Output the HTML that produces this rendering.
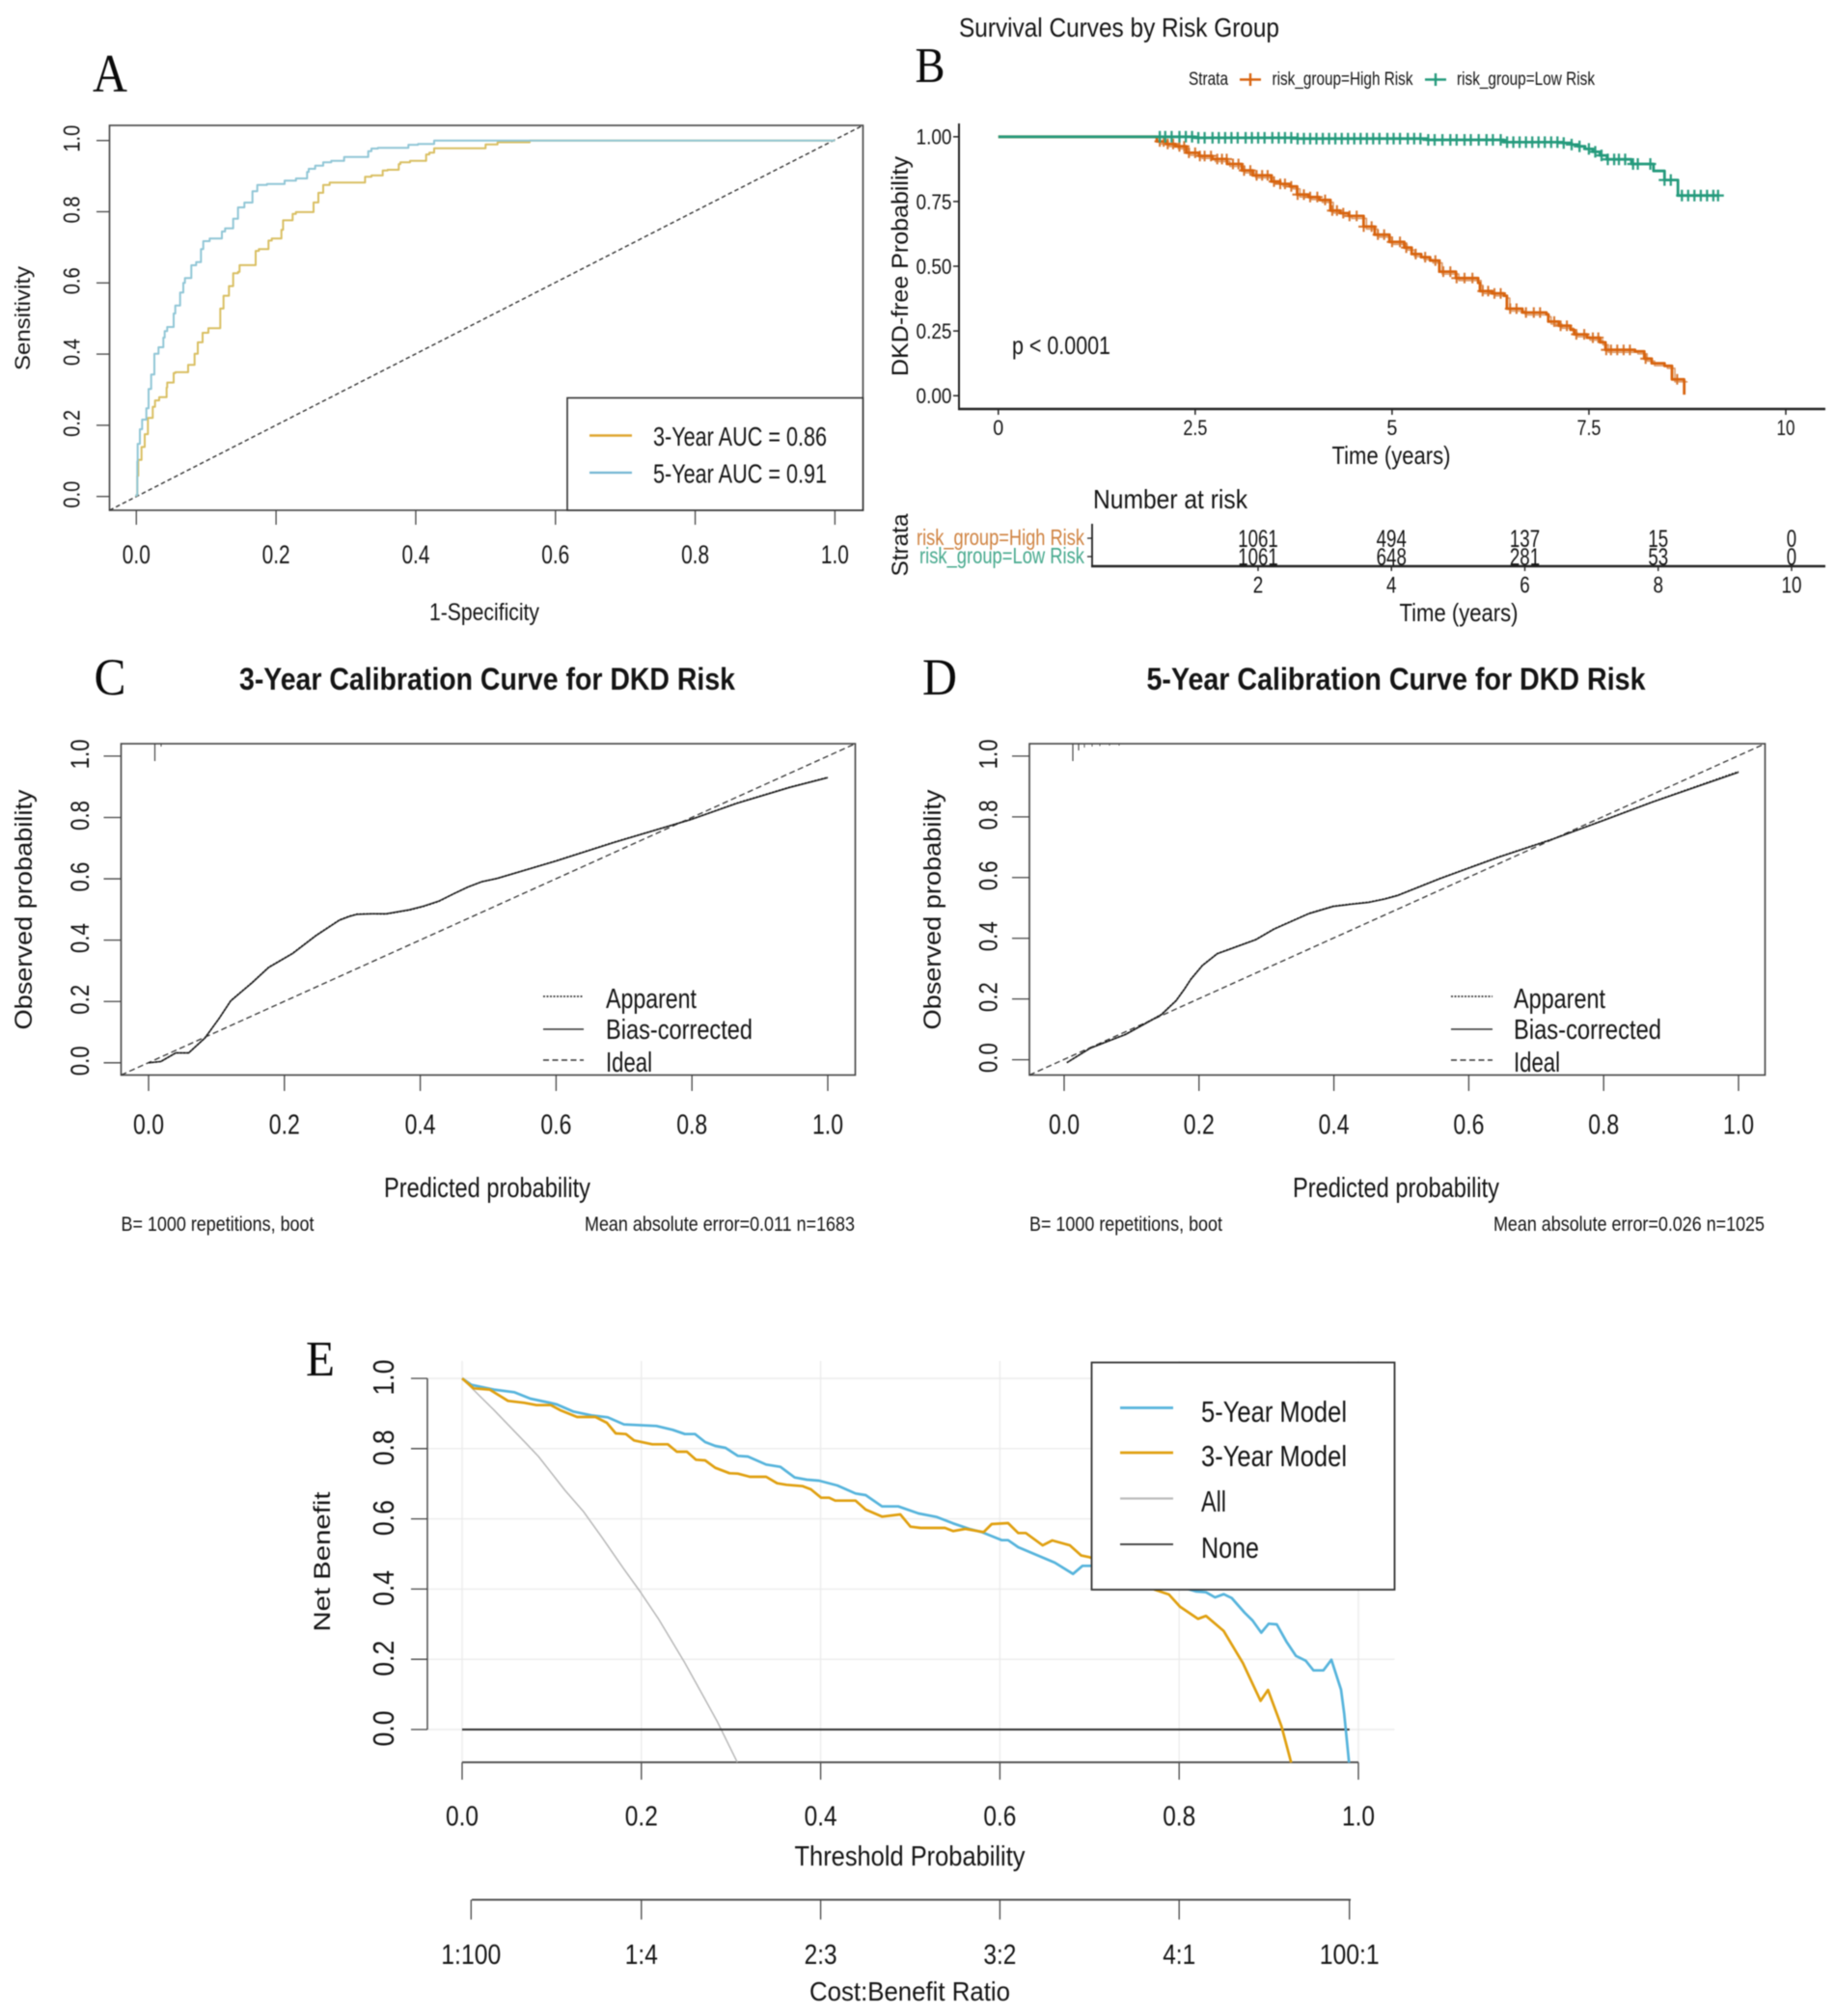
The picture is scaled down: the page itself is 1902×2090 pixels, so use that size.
<!DOCTYPE html>
<html lang="en">
<head>
<meta charset="utf-8">
<title>DKD risk model figure panels A to E</title>
<style>
html,body{margin:0;padding:0;background:#fff;width:1902px;height:2090px;overflow:hidden}
svg{display:block;filter:blur(0.55px)}
text{font-family:"Liberation Sans",sans-serif;fill:#141414}
.serif{font-family:"Liberation Serif",serif;fill:#0a0a0a}
.bold{font-weight:bold}
</style>
</head>
<body>
<svg id="fig" xmlns="http://www.w3.org/2000/svg" width="1902" height="2090" viewBox="0 0 1902 2090">
<rect x="0" y="0" width="1902" height="2090" fill="#fff"/>

<!-- PANEL A -->
<g id="panelA">
  <text class="serif" x="114" y="95" text-anchor="middle" font-size="56" textLength="36" lengthAdjust="spacingAndGlyphs">A</text>
  <rect x="113.5" y="130" width="781" height="399" fill="none" stroke="#444" stroke-width="1.6"/>
  <text x="502" y="643" text-anchor="middle" font-size="25" textLength="114" lengthAdjust="spacingAndGlyphs">1-Specificity</text>
  <text transform="translate(31,330) rotate(-90)" text-anchor="middle" font-size="22" textLength="108" lengthAdjust="spacingAndGlyphs">Sensitivity</text>
</g>
<g id="legendA">
  <rect x="588" y="412.5" width="306.5" height="116.5" fill="#fff" stroke="#333" stroke-width="1.6"/>
  <line x1="611" x2="655" y1="451.5" y2="451.5" stroke="#dfa52e" stroke-width="2.6"/>
  <text x="677" y="462" font-size="28" textLength="180" lengthAdjust="spacingAndGlyphs">3-Year AUC = 0.86</text>
  <line x1="611" x2="655" y1="490" y2="490" stroke="#72b7d2" stroke-width="2.2"/>
  <text x="677" y="500.5" font-size="28" textLength="180" lengthAdjust="spacingAndGlyphs">5-Year AUC = 0.91</text>
</g>

<!-- PANEL B -->
<g id="panelB">
  <text x="994" y="38" font-size="28" textLength="332" lengthAdjust="spacingAndGlyphs">Survival Curves by Risk Group</text>
  <text class="serif" x="964" y="85" text-anchor="middle" font-size="52" textLength="31" lengthAdjust="spacingAndGlyphs">B</text>
  <text x="1232" y="88" font-size="19" textLength="41" lengthAdjust="spacingAndGlyphs">Strata</text>
  <text x="1318.5" y="88" font-size="19" textLength="146" lengthAdjust="spacingAndGlyphs">risk_group=High Risk</text>
  <text x="1510" y="88" font-size="19" textLength="143" lengthAdjust="spacingAndGlyphs">risk_group=Low Risk</text>
  <line x1="994" x2="994" y1="128" y2="424" stroke="#222" stroke-width="2"/>
  <line x1="993" x2="1892" y1="424" y2="424" stroke="#222" stroke-width="2.6"/>
  <text transform="translate(941,276) rotate(-90)" text-anchor="middle" font-size="24" textLength="228" lengthAdjust="spacingAndGlyphs">DKD-free Probability</text>
  <text x="1442" y="481" text-anchor="middle" font-size="26" textLength="123" lengthAdjust="spacingAndGlyphs">Time (years)</text>
  <text x="1049" y="367" font-size="26" textLength="102" lengthAdjust="spacingAndGlyphs">p &lt; 0.0001</text>
  <text x="1133" y="527" font-size="28" textLength="160" lengthAdjust="spacingAndGlyphs">Number at risk</text>
  <line x1="1132" x2="1132" y1="543" y2="587" stroke="#222" stroke-width="1.8"/>
  <line x1="1131" x2="1892" y1="587" y2="587" stroke="#222" stroke-width="2.4"/>
  <text x="1124" y="565" text-anchor="end" font-size="23" textLength="174" lengthAdjust="spacingAndGlyphs" style="fill:#cf8240">risk_group=High Risk</text>
  <text x="1124" y="584" text-anchor="end" font-size="23" textLength="171" lengthAdjust="spacingAndGlyphs" style="fill:#46a98d">risk_group=Low Risk</text>
  <text transform="translate(941,565) rotate(-90)" text-anchor="middle" font-size="24" textLength="65" lengthAdjust="spacingAndGlyphs">Strata</text>
  <text x="1512" y="644" text-anchor="middle" font-size="26" textLength="123" lengthAdjust="spacingAndGlyphs">Time (years)</text>
</g>

<!-- PANEL C -->
<g id="panelC">
  <text class="serif" x="114" y="720" text-anchor="middle" font-size="54" textLength="33" lengthAdjust="spacingAndGlyphs">C</text>
  <text class="bold" x="505" y="715" text-anchor="middle" font-size="32" textLength="514" lengthAdjust="spacingAndGlyphs">3-Year Calibration Curve for DKD Risk</text>
  <rect x="125.5" y="771" width="761" height="343.5" fill="none" stroke="#444" stroke-width="1.6"/>
  <text x="505" y="1241" text-anchor="middle" font-size="29" textLength="214" lengthAdjust="spacingAndGlyphs">Predicted probability</text>
  <text transform="translate(33,943) rotate(-90)" text-anchor="middle" font-size="25" textLength="249" lengthAdjust="spacingAndGlyphs">Observed probability</text>
  <text x="125.5" y="1276" font-size="21" textLength="200" lengthAdjust="spacingAndGlyphs">B= 1000 repetitions, boot</text>
  <text x="886" y="1276" text-anchor="end" font-size="21" textLength="280" lengthAdjust="spacingAndGlyphs">Mean absolute error=0.011 n=1683</text>
  <line x1="563" x2="605" y1="1033" y2="1033" stroke="#222" stroke-width="1.4" stroke-dasharray="2 1.5"/>
  <text x="628" y="1045" font-size="29" textLength="94" lengthAdjust="spacingAndGlyphs">Apparent</text>
  <line x1="563" x2="605" y1="1067" y2="1067" stroke="#333" stroke-width="1.6"/>
  <text x="628" y="1077" font-size="29" textLength="152" lengthAdjust="spacingAndGlyphs">Bias-corrected</text>
  <line x1="563" x2="605" y1="1099" y2="1099" stroke="#333" stroke-width="1.4" stroke-dasharray="6 3.5"/>
  <text x="628" y="1111" font-size="29" textLength="48" lengthAdjust="spacingAndGlyphs">Ideal</text>
</g>

<!-- PANEL D -->
<g id="panelD">
  <text class="serif" x="974" y="720" text-anchor="middle" font-size="54" textLength="36" lengthAdjust="spacingAndGlyphs">D</text>
  <text class="bold" x="1447" y="715" text-anchor="middle" font-size="32" textLength="517" lengthAdjust="spacingAndGlyphs">5-Year Calibration Curve for DKD Risk</text>
  <rect x="1067" y="771" width="762.5" height="343.5" fill="none" stroke="#444" stroke-width="1.6"/>
  <text x="1447" y="1241" text-anchor="middle" font-size="29" textLength="214" lengthAdjust="spacingAndGlyphs">Predicted probability</text>
  <text transform="translate(975,943) rotate(-90)" text-anchor="middle" font-size="25" textLength="249" lengthAdjust="spacingAndGlyphs">Observed probability</text>
  <text x="1067" y="1276" font-size="21" textLength="200" lengthAdjust="spacingAndGlyphs">B= 1000 repetitions, boot</text>
  <text x="1829" y="1276" text-anchor="end" font-size="21" textLength="281" lengthAdjust="spacingAndGlyphs">Mean absolute error=0.026 n=1025</text>
  <line x1="1504" x2="1547" y1="1033" y2="1033" stroke="#222" stroke-width="1.4" stroke-dasharray="2 1.5"/>
  <text x="1569" y="1045" font-size="29" textLength="95" lengthAdjust="spacingAndGlyphs">Apparent</text>
  <line x1="1504" x2="1547" y1="1067" y2="1067" stroke="#333" stroke-width="1.6"/>
  <text x="1569" y="1077" font-size="29" textLength="153" lengthAdjust="spacingAndGlyphs">Bias-corrected</text>
  <line x1="1504" x2="1547" y1="1099" y2="1099" stroke="#333" stroke-width="1.4" stroke-dasharray="6 3.5"/>
  <text x="1569" y="1111" font-size="29" textLength="48" lengthAdjust="spacingAndGlyphs">Ideal</text>
</g>

<!-- PANEL E -->
<g id="panelE">
  <text class="serif" x="332" y="1426" text-anchor="middle" font-size="52" textLength="30" lengthAdjust="spacingAndGlyphs">E</text>
  <text x="943" y="1934" text-anchor="middle" font-size="29" textLength="239" lengthAdjust="spacingAndGlyphs">Threshold Probability</text>
  <text x="943" y="2074" text-anchor="middle" font-size="28" textLength="208" lengthAdjust="spacingAndGlyphs">Cost:Benefit Ratio</text>
  <text transform="translate(342,1619) rotate(-90)" text-anchor="middle" font-size="24" textLength="145" lengthAdjust="spacingAndGlyphs">Net Benefit</text>
</g>
<g id="legendE">
  <rect x="1131.5" y="1412.5" width="314" height="235.5" fill="#fff" stroke="#333" stroke-width="1.8"/>
  <line x1="1161" x2="1216" y1="1459.5" y2="1459.5" stroke="#56b4dc" stroke-width="2.8"/>
  <text x="1245" y="1474" font-size="31" textLength="151" lengthAdjust="spacingAndGlyphs">5-Year Model</text>
  <line x1="1161" x2="1216" y1="1506" y2="1506" stroke="#e0a010" stroke-width="2.8"/>
  <text x="1245" y="1520" font-size="31" textLength="151" lengthAdjust="spacingAndGlyphs">3-Year Model</text>
  <line x1="1161" x2="1216" y1="1553.5" y2="1553.5" stroke="#bbb" stroke-width="2.2"/>
  <text x="1245" y="1567" font-size="31" textLength="26" lengthAdjust="spacingAndGlyphs">All</text>
  <line x1="1161" x2="1216" y1="1601" y2="1601" stroke="#333" stroke-width="1.8"/>
  <text x="1245" y="1615" font-size="31" textLength="60" lengthAdjust="spacingAndGlyphs">None</text>
</g>
</svg>

<script>
// ---------- Panel A data ----------
var rocTicks = ['0.0','0.2','0.4','0.6','0.8','1.0'];
var roc3Fpr = [0,0.0014,0.0028,0.0074,0.012,0.0166,0.0235,0.0268,0.0327,0.0434,0.0442,0.0534,0.0558,0.0742,0.0834,0.088,0.0949,0.1032,0.1202,0.1249,0.1326,0.1387,0.1456,0.1478,0.1708,0.1754,0.1892,0.1939,0.2077,0.21,0.2237,0.2284,0.2537,0.2606,0.2675,0.2768,0.3274,0.3366,0.3527,0.3596,0.3756,0.378,0.3918,0.4149,0.4194,0.4263,0.5,0.517,0.563,0.6,1];
var roc3Tpr = [0,0.004,0.058,0.103,0.139,0.175,0.221,0.252,0.27,0.279,0.306,0.32,0.347,0.349,0.37,0.401,0.433,0.46,0.473,0.528,0.564,0.591,0.627,0.631,0.65,0.69,0.695,0.719,0.725,0.749,0.776,0.794,0.799,0.826,0.853,0.875,0.882,0.898,0.902,0.916,0.918,0.934,0.939,0.943,0.961,0.966,0.978,0.989,0.995,1,1];
var roc5Fpr = [0,0.0014,0.0019,0.0051,0.0083,0.0144,0.0175,0.0213,0.0258,0.0318,0.0387,0.0406,0.0442,0.0534,0.0558,0.0627,0.0673,0.0696,0.0787,0.0856,0.0925,0.0958,0.105,0.1225,0.1271,0.1387,0.1456,0.1547,0.1663,0.1732,0.187,0.2123,0.2285,0.2445,0.2468,0.2561,0.2675,0.279,0.2975,0.3044,0.332,0.3366,0.3458,0.3895,0.4033,0.4263,0.5,1];
var roc5Tpr = [0,0.004,0.0987,0.148,0.189,0.216,0.2477,0.3019,0.3425,0.4011,0.4192,0.4463,0.4645,0.4762,0.5141,0.5366,0.5729,0.6,0.6136,0.6496,0.6585,0.6948,0.7173,0.7246,0.7444,0.7534,0.7805,0.8122,0.8257,0.8574,0.8753,0.878,0.8872,0.8935,0.9116,0.9206,0.9295,0.9387,0.9431,0.9539,0.9539,0.9702,0.9775,0.9793,0.9882,0.9902,1,1];

// ---------- Panel B data ----------
var survTicks = ['0','2.5','5','7.5','10'];
var survTickValues = [0,2.5,5,7.5,10];
var probTicks = ['0.00','0.25','0.50','0.75','1.00'];
var probTickValues = [0,0.25,0.5,0.75,1];
var highTime = [0,2.013,2.13,2.248,2.389,2.55,2.717,2.904,3.092,3.232,3.467,3.58,3.702,3.795,3.94,4.077,4.217,4.34,4.451,4.639,4.779,4.967,5.154,5.249,5.37,5.483,5.6,5.811,6.093,6.116,6.27,6.421,6.458,6.655,6.96,6.983,7.12,7.265,7.312,7.476,7.64,7.71,8.085,8.203,8.297,8.46,8.554,8.708,8.71];
var highSurv = [1,0.982,0.972,0.963,0.938,0.926,0.914,0.895,0.87,0.851,0.827,0.818,0.808,0.777,0.767,0.756,0.715,0.705,0.694,0.653,0.622,0.594,0.572,0.547,0.535,0.522,0.479,0.454,0.436,0.404,0.395,0.386,0.336,0.321,0.314,0.286,0.27,0.255,0.237,0.224,0.206,0.177,0.171,0.143,0.125,0.115,0.063,0.06,0.004];
var lowTime = [0,2.5,3.8,5.44,6.42,7.17,7.28,7.36,7.45,7.55,7.64,7.73,8.04,8.32,8.46,8.63,9.15];
var lowSurv = [1,0.996,0.993,0.988,0.979,0.976,0.97,0.963,0.953,0.942,0.928,0.913,0.895,0.868,0.833,0.773,0.773];
var highCensor = [2.05,2.1,2.15,2.22,2.3,2.36,2.42,2.5,2.56,2.62,2.7,2.78,2.84,2.9,2.98,3.05,3.12,3.2,3.28,3.35,3.42,3.5,3.58,3.64,3.72,3.8,3.88,3.96,4.05,4.15,4.24,4.3,4.38,4.46,4.55,4.64,4.74,4.82,4.9,5.0,5.1,5.18,5.3,5.42,5.55,5.65,5.74,5.82,5.92,6.02,6.15,6.22,6.3,6.38,6.5,6.58,6.7,6.8,6.88,7.06,7.14,7.22,7.34,7.44,7.55,7.62,7.72,7.78,7.86,7.94,8.02,8.22,8.62];
var lowCensor = [2.05,2.12,2.2,2.3,2.38,2.46,2.54,2.62,2.72,2.8,2.88,2.96,3.04,3.14,3.22,3.3,3.38,3.48,3.56,3.64,3.72,3.8,3.88,3.96,4.04,4.12,4.2,4.28,4.36,4.44,4.52,4.6,4.68,4.76,4.84,4.94,5.02,5.1,5.2,5.28,5.36,5.46,5.54,5.64,5.74,5.82,5.92,6.0,6.1,6.2,6.28,6.38,6.46,6.54,6.62,6.7,6.78,6.86,6.94,7.02,7.1,7.18,7.28,7.38,7.5,7.58,7.66,7.74,7.82,7.88,7.96,8.06,8.12,8.28,8.46,8.54,8.68,8.76,8.84,8.92,9.0,9.08,9.14];
var riskTimes = [2,4,6,8,10];
var riskHigh = ['1061','494','137','15','0'];
var riskLow = ['1061','648','281','53','0'];
var riskTickLabels = ['2','4','6','8','10'];

// ---------- Panel C data ----------
var calTicks = ['0.0','0.2','0.4','0.6','0.8','1.0'];
var cal3X = [0,0.018,0.04,0.059,0.083,0.104,0.121,0.152,0.177,0.212,0.246,0.281,0.295,0.307,0.33,0.35,0.384,0.405,0.427,0.45,0.47,0.49,0.513,0.6,0.686,0.798,0.866,0.944,1];
var cal3Apparent = [0,0.004,0.032,0.032,0.081,0.145,0.203,0.261,0.312,0.357,0.415,0.466,0.478,0.485,0.486,0.485,0.498,0.51,0.526,0.552,0.573,0.59,0.601,0.659,0.72,0.793,0.847,0.899,0.931];
var cal3Corrected = [0,0.004,0.032,0.032,0.081,0.145,0.202,0.26,0.311,0.356,0.414,0.465,0.477,0.484,0.486,0.486,0.499,0.511,0.527,0.552,0.573,0.59,0.601,0.658,0.719,0.793,0.846,0.898,0.93];

// ---------- Panel D data ----------
var cal5X = [0.004,0.039,0.091,0.144,0.166,0.178,0.188,0.205,0.227,0.284,0.311,0.363,0.399,0.425,0.451,0.475,0.495,0.557,0.644,0.723,0.802,0.873,1];
var cal5Apparent = [-0.01,0.039,0.084,0.149,0.195,0.232,0.266,0.311,0.35,0.396,0.431,0.482,0.506,0.513,0.519,0.53,0.542,0.597,0.668,0.726,0.791,0.85,0.949];
var cal5Corrected = [-0.01,0.038,0.083,0.148,0.194,0.231,0.265,0.31,0.349,0.395,0.43,0.481,0.505,0.512,0.518,0.529,0.541,0.596,0.667,0.725,0.79,0.849,0.947];

// ---------- Panel E data ----------
var dcaTicks = ['0.0','0.2','0.4','0.6','0.8','1.0'];
var costLabels = ['1:100','1:4','2:3','3:2','4:1','100:1'];
var costThresholds = [0.01,0.2,0.4,0.6,0.8,0.99];
var dca5X = [0,0.0104,0.0354,0.058,0.0762,0.0966,0.1057,0.1238,0.1442,0.1624,0.1805,0.2168,0.2349,0.2485,0.2599,0.2712,0.2825,0.2939,0.3075,0.3188,0.3392,0.3551,0.371,0.3846,0.3982,0.4186,0.439,0.4503,0.4685,0.4866,0.5093,0.5297,0.5478,0.566,0.5796,0.6023,0.6091,0.6204,0.6612,0.6816,0.6921,0.7011,0.73,0.76,0.79,0.8192,0.8299,0.84,0.8497,0.8587,0.873,0.8819,0.8916,0.8999,0.9089,0.9196,0.9304,0.9412,0.9498,0.9609,0.9699,0.9806,0.9842,0.9896];
var dca5Y = [1,0.9817,0.968,0.9606,0.9423,0.9313,0.9258,0.9057,0.8947,0.8892,0.869,0.8645,0.8535,0.8416,0.8416,0.8187,0.8077,0.8022,0.7793,0.7775,0.7546,0.7482,0.7179,0.7115,0.7088,0.695,0.6722,0.6676,0.6355,0.6355,0.6154,0.6053,0.587,0.5714,0.5623,0.5394,0.5394,0.5192,0.4753,0.4432,0.4661,0.4661,0.455,0.44,0.415,0.393,0.391,0.3764,0.3855,0.3745,0.333,0.3104,0.2757,0.3013,0.2995,0.2509,0.2097,0.1959,0.1685,0.1685,0.1987,0.1135,0.0449,-0.0943];
var dca3X = [0,0.0127,0.0308,0.0512,0.0694,0.083,0.0989,0.1102,0.1283,0.1488,0.1615,0.1714,0.1828,0.1918,0.2122,0.2295,0.2395,0.2508,0.2608,0.2712,0.2825,0.2984,0.3075,0.3211,0.3392,0.3515,0.3619,0.38,0.3891,0.4005,0.4095,0.4163,0.439,0.4503,0.4685,0.4889,0.5002,0.5116,0.5388,0.5478,0.5615,0.5819,0.5909,0.6091,0.6204,0.629,0.6477,0.6585,0.6781,0.6907,0.6997,0.73,0.7725,0.7886,0.8011,0.821,0.8299,0.8497,0.8712,0.8909,0.8991,0.9142,0.925];
var dca3Y = [1,0.9716,0.968,0.9359,0.9304,0.924,0.924,0.9084,0.8901,0.8901,0.8736,0.8434,0.8416,0.8233,0.8123,0.8123,0.7912,0.7912,0.7683,0.7665,0.7454,0.7299,0.7289,0.7198,0.7198,0.7015,0.6969,0.6932,0.6841,0.6603,0.6603,0.652,0.652,0.6264,0.6062,0.6126,0.5778,0.5742,0.5742,0.565,0.5714,0.5623,0.5852,0.5879,0.5595,0.5595,0.5245,0.5385,0.5245,0.4956,0.4908,0.46,0.3984,0.3846,0.3495,0.3152,0.3235,0.2805,0.189,0.0816,0.1127,0.0092,-0.0943];
var dcaAllX = [0,0.0172,0.0354,0.0717,0.0853,0.1147,0.1351,0.1556,0.1805,0.1986,0.219,0.248,0.268,0.285,0.307];
var dcaAllY = [1,0.956,0.9103,0.8141,0.7775,0.6813,0.6218,0.5485,0.4569,0.3929,0.315,0.192,0.1,0.021,-0.093];
var dcaNoneX = [0,0.99];
var dcaNoneY = [0,0];

// ---------- helpers ----------
var NS = 'http://www.w3.org/2000/svg';
function scale(d0, d1, r0, r1) {
  return function (v) { return r0 + (v - d0) * (r1 - r0) / (d1 - d0); };
}
function addLine(parent, x1, y1, x2, y2, stroke, width, name) {
  var el = document.createElementNS(NS, 'line');
  el.setAttribute('x1', x1); el.setAttribute('y1', y1);
  el.setAttribute('x2', x2); el.setAttribute('y2', y2);
  el.setAttribute('stroke', stroke); el.setAttribute('stroke-width', width);
  
  
  parent.appendChild(el);
  return el;
}
function addPath(parent, d, stroke, width, dash, name) {
  var el = document.createElementNS(NS, 'path');
  el.setAttribute('d', d); el.setAttribute('fill', 'none');
  el.setAttribute('stroke', stroke); el.setAttribute('stroke-width', width);
  el.setAttribute('stroke-linejoin', 'round');
  if (dash) { el.setAttribute('stroke-dasharray', dash); }
  
  
  parent.appendChild(el);
  return el;
}
function addText(parent, x, y, str, size, len, rot, fill, name) {
  var el = document.createElementNS(NS, 'text');
  var base = size * 0.36;
  if (rot) {
    el.setAttribute('transform', 'translate(' + (x + base) + ',' + y + ') rotate(-90)');
  } else {
    el.setAttribute('x', x); el.setAttribute('y', y + base);
  }
  el.setAttribute('text-anchor', 'middle');
  el.setAttribute('font-size', size);
  if (len) {
    el.setAttribute('textLength', len);
    el.setAttribute('lengthAdjust', 'spacingAndGlyphs');
  }
  if (fill) { el.style.fill = fill; }
  el.textContent = str;
  
  
  parent.appendChild(el);
  return el;
}
function linePath(xs, ys, sx, sy) {
  return xs.map(function (x, i) { return (i ? 'L' : 'M') + sx(x).toFixed(1) + ' ' + sy(ys[i]).toFixed(1); }).join('');
}
function stepUpPath(xs, ys, sx, sy) {
  var d = 'M' + sx(xs[0]).toFixed(1) + ' ' + sy(ys[0]).toFixed(1);
  for (var i = 1; i < xs.length; i++) {
    d += 'V' + sy(ys[i]).toFixed(1) + 'H' + sx(xs[i]).toFixed(1);
  }
  return d;
}
function stepDownPath(xs, ys, sx, sy) {
  var d = 'M' + sx(xs[0]).toFixed(1) + ' ' + sy(ys[0]).toFixed(1);
  for (var i = 1; i < xs.length; i++) {
    d += 'H' + sx(xs[i]).toFixed(1) + 'V' + sy(ys[i]).toFixed(1);
  }
  return d;
}
function survivalAt(ts, ss, t) {
  var v = ss[0];
  for (var i = 0; i < ts.length; i++) { if (ts[i] <= t) { v = ss[i]; } }
  return v;
}
function addCensor(parent, xs, ts, ss, sx, sy, color, size, width, name) {
  xs.forEach(function (t) {
    var cx = sx(t), cy = sy(survivalAt(ts, ss, t));
    var d = 'M' + (cx - size).toFixed(1) + ' ' + cy.toFixed(1) + 'H' + (cx + size).toFixed(1) +
            'M' + cx.toFixed(1) + ' ' + (cy - size).toFixed(1) + 'V' + (cy + size).toFixed(1);
    addPath(parent, d, color, width, null, name);
  });
}

var byId = function (id) { return document.getElementById(id); };

// ---------- Panel A ----------
(function () {
  var g = byId('panelA');
  var sx = scale(0, 1, 141.3, 865.4), sy = scale(0, 1, 514.7, 145.7);
  rocTicks.forEach(function (label) {
    var v = parseFloat(label);
    addLine(g, sx(v), 529, sx(v), 544, '#444', 1.3, 'x-tick-a');
    addLine(g, 100, sy(v), 113.5, sy(v), '#444', 1.3, 'y-tick-a');
    addText(g, sx(v), 574.5, label, 27, 29, false, null, 'x-tick-label-a');
    addText(g, 74, sy(v) - 2, label, 24, 28, true, null, 'y-tick-label-a');
  });
  addPath(g, 'M113.5 529L894.5 130', '#333', 1.4, '4.5 3', 'reference-diagonal');
  addPath(g, stepUpPath(roc3Fpr, roc3Tpr, sx, sy), '#d9bf62', 2, null, 'roc-curve-3-year');
  addPath(g, stepUpPath(roc5Fpr, roc5Tpr, sx, sy), '#90c6d6', 2, null, 'roc-curve-5-year');
})();

// ---------- Panel B ----------
(function () {
  var g = byId('panelB');
  var sx = scale(0, 10, 1034.8, 1851), sy = scale(0, 1, 410.2, 141.8);
  var hi = '#d8640f', lo = '#249a7c';
  survTicks.forEach(function (label, i) {
    var v = survTickValues[i];
    addLine(g, sx(v), 424, sx(v), 430, '#222', 1.5, 'survival-x-tick');
    addText(g, sx(v), 443, label, 22, label.length > 1 ? (label === '10' ? 19 : 25) : 11, false, null, 'survival-x-tick-label');
  });
  probTicks.forEach(function (label, i) {
    var v = probTickValues[i];
    addLine(g, 988, sy(v), 994, sy(v), '#222', 1.5, 'survival-y-tick');
    addText(g, 968, sy(v), label, 22, 37, false, null, 'survival-y-tick-label');
  });
  var shadow = addPath(g, stepDownPath(highTime.slice(1, -1), highSurv.slice(1, -1), sx, sy), '#dd9a68', 1.6, null, 'survival-curve-high-risk-shadow');
  shadow.setAttribute('transform', 'translate(3,2.5)');
  addCensor(g, highCensor, highTime, highSurv, sx, sy, '#d97a34', 5.5, 2.1, 'censor-mark-high-risk');
  addPath(g, stepDownPath(highTime, highSurv, sx, sy), hi, 2.8, null, 'survival-curve-high-risk');
  addCensor(g, lowCensor, lowTime, lowSurv, sx, sy, '#2f9f83', 6, 2.3, 'censor-mark-low-risk');
  addPath(g, stepDownPath(lowTime, lowSurv, sx, sy), lo, 2.8, null, 'survival-curve-low-risk');
  addPath(g, 'M1285 82.5H1307M1296 76V89', hi, 2.4, null, 'legend-key-high-risk');
  addPath(g, 'M1477 82.5H1499M1488 76V89', lo, 2.4, null, 'legend-key-low-risk');

  var rx = scale(2, 10, 1304, 1857);
  riskTimes.forEach(function (t, i) {
    var c = rx(t);
    addLine(g, c, 587, c, 592, '#222', 1.4, 'risk-table-x-tick');
    addText(g, c, 606, riskTickLabels[i], 24, riskTickLabels[i].length * 10.5, false, null, 'risk-table-x-tick-label');
    addText(g, c, 558, riskHigh[i], 25, riskHigh[i].length * 10.4, false, null, 'risk-count-high');
    addText(g, c, 577, riskLow[i], 25, riskLow[i].length * 10.4, false, null, 'risk-count-low');
  });
  addLine(g, 1127, 558, 1132, 558, '#222', 1.3, 'risk-table-y-tick');
  addLine(g, 1127, 577, 1132, 577, '#222', 1.3, 'risk-table-y-tick');
})();

// ---------- Panels C and D ----------
function drawCalibration(id, x0, x1, y0, y1, boxL, boxR, xs, app, cor, suffix) {
  var g = byId(id);
  var sx = scale(0, 1, x0, x1), sy = scale(0, 1, y0, y1);
  calTicks.forEach(function (label) {
    var v = parseFloat(label);
    addLine(g, sx(v), 1114.5, sx(v), 1131, '#444', 1.3, 'x-tick-' + suffix);
    addLine(g, boxL - 18, sy(v), boxL, sy(v), '#444', 1.3, 'y-tick-' + suffix);
    addText(g, sx(v), 1165, label, 29, 32, false, null, 'x-tick-label-' + suffix);
    addText(g, boxL - 43, sy(v) - 2, label, 27, 31, true, null, 'y-tick-label-' + suffix);
  });
  addPath(g, 'M' + boxL + ' 1114.5L' + boxR + ' 771', '#333', 1.3, '6 3.5', 'ideal-line-' + suffix);
  addPath(g, linePath(xs, cor, sx, sy), '#333', 1.6, null, 'bias-corrected-curve-' + suffix);
  addPath(g, linePath(xs, app, sx, sy), '#111', 1.4, '2 1.5', 'apparent-curve-' + suffix);
}
drawCalibration('panelC', 154, 858, 1101.8, 783.9, 125.5, 886.5, cal3X, cal3Apparent, cal3Corrected, 'c');
drawCalibration('panelD', 1103, 1802, 1098.6, 783.9, 1067, 1829.5, cal5X, cal5Apparent, cal5Corrected, 'd');
addLine(byId('panelC'), 160.5, 771, 160.5, 789, '#444', 1.2, 'rug-main-tick-c');
addLine(byId('panelC'), 167, 771, 167, 774, '#444', 1, 'rug-tick-c');
addLine(byId('panelD'), 1112, 771, 1112, 789, '#444', 1.2, 'rug-main-tick-d');
addLine(byId('panelD'), 1118, 771, 1118, 778, '#444', 1.1, 'rug-tick-d');
addLine(byId('panelD'), 1124, 771, 1124, 775, '#555', 1, 'rug-tick-d');
addLine(byId('panelD'), 1132, 771, 1132, 774, '#555', 1, 'rug-tick-d');
addLine(byId('panelD'), 1140, 771, 1140, 773.5, '#555', 1, 'rug-tick-d');
addLine(byId('panelD'), 1150, 771, 1150, 773, '#555', 1, 'rug-tick-d');
addLine(byId('panelD'), 1160, 771, 1160, 773, '#555', 1, 'rug-tick-d');

// ---------- Panel E ----------
(function () {
  var g = byId('panelE');
  var sx = scale(0, 1, 479, 1408), sy = scale(0, 1, 1793, 1429);
  var right = 1445.5, bottom = 1827;
  dcaTicks.forEach(function (label) {
    var v = parseFloat(label);
    addLine(g, sx(v), 1411, sx(v), bottom, '#ececec', 1.4, 'grid-vertical');
    addLine(g, 443, sy(v), right, sy(v), '#ececec', 1.4, 'grid-horizontal');
    addLine(g, sx(v), bottom, sx(v), 1845, '#444', 1.3, 'x-tick-e');
    addLine(g, 426, sy(v), 443, sy(v), '#444', 1.3, 'y-tick-e');
    addText(g, sx(v), 1882, label, 29, 34, false, null, 'x-tick-label-e');
    addText(g, 397, sy(v) - 1, label, 31, 37, true, null, 'y-tick-label-e');
  });
  addLine(g, 443, 1429, 443, 1793, '#444', 1.4, 'y-axis-line-e');
  addLine(g, 479, bottom, 1408, bottom, '#555', 2, 'x-axis-line-e');
  addLine(g, 489, 1969.5, 1400, 1969.5, '#555', 2, 'cost-benefit-axis-line');
  costLabels.forEach(function (label, i) {
    var c = sx(costThresholds[i]);
    addLine(g, c, 1969.5, c, 1990, '#444', 1.3, 'cost-benefit-tick');
    addText(g, c, 2025.5, label, 29, label.length > 3 ? 62 : 34, false, null, 'cost-benefit-tick-label');
  });
  addPath(g, linePath(dcaAllX, dcaAllY, sx, sy), '#b8b8b8', 1.5, null, 'dca-curve-all');
  addPath(g, linePath(dcaNoneX, dcaNoneY, sx, sy), '#333', 2, null, 'dca-curve-none');
  addPath(g, linePath(dca5X, dca5Y, sx, sy), '#56b4dc', 2.7, null, 'dca-curve-5-year');
  addPath(g, linePath(dca3X, dca3Y, sx, sy), '#e0a010', 2.7, null, 'dca-curve-3-year');
})();
</script>
</body>
</html>
